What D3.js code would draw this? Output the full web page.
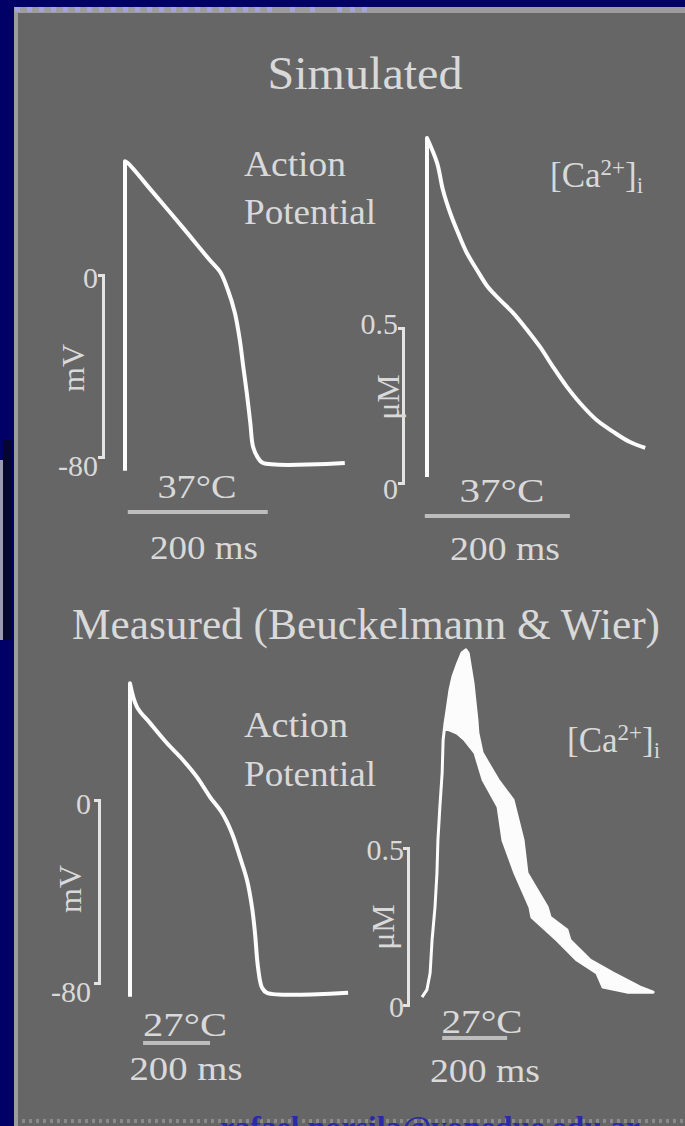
<!DOCTYPE html>
<html>
<head>
<meta charset="utf-8">
<script src="https://cdn.jsdelivr.net/npm/d3@7"></script>
<style>
  body { margin: 0; background: #000066; }
  svg { display: block; }
  text { font-family: "Liberation Serif", "DejaVu Serif", serif; }
</style>
</head>
<body>
<div id="main"></div>
<script>
// simulated action potential, 37 C (ms, mV)
const simApTime = [0, 0, 4, 40, 83, 121, 136, 147, 157, 164, 169, 174, 179, 183, 190, 197, 314];
const simApVolt = [-86, 50, 49.2, 36.3, 20.7, 6.6, 1.3, -6.6, -16.7, -28.6, -40.4, -51.9, -65, -75.6, -80.4, -82.6, -82.6];

// simulated [Ca2+]i, 37 C (ms, uM)
const simCaTime = [0, 0, 14, 22, 32, 43, 55, 69, 84, 101, 119, 138, 156, 174, 193, 211, 234, 257, 280, 301];
const simCaConc = [0.019, 1.113, 1.032, 0.945, 0.871, 0.806, 0.742, 0.687, 0.632, 0.590, 0.548, 0.494, 0.439, 0.374, 0.310, 0.258, 0.203, 0.165, 0.132, 0.113];

// measured action potential, 27 C
const measApTime = [0, 0, 21, 60, 110, 158, 200, 239, 275, 304, 328, 349, 364, 373, 382, 394, 409, 651];
const measApVolt = [-86, 51, 40.6, 33.6, 24.9, 17.5, 10, 1.3, -5.7, -14.4, -24.9, -34.9, -46.7, -58, -73, -82, -84.3, -84.3];

// measured [Ca2+]i, 27 C: rise + upper edge, then lower edge of the noisy trace
const measCaTime = [0, 15, 25, 31, 40, 46, 49, 55, 62, 65, 71, 77, 86, 95, 108, 123, 135, 142, 157, 169, 172, 185, 234, 280, 311, 323, 354, 385, 394, 446, 455, 517, 588, 671, 711];
const measCaConc = [0.025, 0.048, 0.102, 0.207, 0.312, 0.420, 0.525, 0.631, 0.739, 0.844, 0.898, 0.939, 1.003, 1.045, 1.083, 1.121, 1.131, 1.121, 1.025, 0.908, 0.866, 0.803, 0.717, 0.653, 0.525, 0.420, 0.366, 0.312, 0.280, 0.239, 0.207, 0.143, 0.102, 0.057, 0.041];
const measCaLowTime = [71, 108, 132, 163, 188, 234, 249, 286, 332, 338, 415, 477, 538, 557, 631, 711];
const measCaLowConc = [0.882, 0.866, 0.844, 0.803, 0.717, 0.631, 0.525, 0.420, 0.312, 0.280, 0.207, 0.143, 0.102, 0.057, 0.041, 0.041];

const apTicks = [-80, 0];
const apTickLabels = ["-80", "0"];
const caTicks = [0, 0.5];
const caTickLabels = ["0", "0.5"];

const W = 685, H = 1126;
const textColor = '#d9d9d9';
const traceColor = '#fcfcfc';

const svg = d3.select('#main').append('svg').attr('width', W).attr('height', H);

// frame
svg.append('rect').attr('width', W).attr('height', H).attr('fill', '#000066');
svg.append('rect').attr('x', 14).attr('y', 7).attr('width', W - 14).attr('height', H - 7).attr('fill', '#9c9c9c');
svg.append('rect').attr('x', 18).attr('y', 13).attr('width', W - 18).attr('height', H - 13).attr('fill', '#666666');
svg.selectAll('.dot').data(d3.range(15, 270, 12).concat([290, 310, 337, 350, 362]))
  .enter().append('rect').attr('class', 'dot')
  .attr('x', d => d).attr('y', 7).attr('width', 5).attr('height', 5).attr('fill', '#a4a4d8');
svg.selectAll('.bdot').data(d3.range(22, W, 7))
  .enter().append('rect').attr('class', 'bdot')
  .attr('x', d => d).attr('y', 1119).attr('width', 3).attr('height', 4).attr('fill', '#8a8a8a');
svg.append('rect').attr('x', 0).attr('y', 460).attr('width', 3).attr('height', 180).attr('fill', '#9a9ab0');
svg.append('rect').attr('x', 3).attr('y', 440).attr('width', 8).attr('height', 200).attr('fill', '#06062c');

// scales
const simApX = d3.scaleLinear().domain([0, 200]).range([125, 265]);
const simApY = d3.scaleLinear().domain([-80, 0]).range([457, 275]);
const simCaX = d3.scaleLinear().domain([0, 200]).range([427, 572]);
const simCaY = d3.scaleLinear().domain([0, 0.5]).range([483, 328]);
const measApX = d3.scaleLinear().domain([0, 200]).range([130, 197]);
const measApY = d3.scaleLinear().domain([-80, 0]).range([983, 800]);
const measCaX = d3.scaleLinear().domain([0, 200]).range([422, 487]);
const measCaY = d3.scaleLinear().domain([0, 0.5]).range([1005, 848]);

function drawTrace(times, values, x, y) {
  // upstroke drawn straight, the rest smoothed through the points
  const pts = times.map((t, i) => [x(t), y(values[i])]);
  const smooth = d3.line().curve(d3.curveCatmullRom.alpha(0.5));
  const d = 'M' + pts[0].join(',') + smooth(pts.slice(1)).replace(/^M/, 'L');
  svg.append('path')
    .attr('d', d)
    .attr('fill', 'none')
    .attr('stroke', traceColor)
    .attr('stroke-width', 4)
    .attr('stroke-linejoin', 'round');
}

drawTrace(simApTime, simApVolt, simApX, simApY);
drawTrace(simCaTime, simCaConc, simCaX, simCaY);
drawTrace(measApTime, measApVolt, measApX, measApY);

// measured calcium: band between upper and lower edges
const upper = measCaTime.map((t, i) => [t, measCaConc[i]]);
const lower = measCaLowTime.map((t, i) => [t, measCaLowConc[i]]).reverse();
const rise = upper.filter(d => d[0] <= measCaLowTime[0]).reverse();
const band = upper.concat(lower, rise);
svg.append('path')
  .attr('d', d3.line().x(d => measCaX(d[0])).y(d => measCaY(d[1]))(band))
  .attr('fill', traceColor)
  .attr('stroke', traceColor)
  .attr('stroke-width', 3)
  .attr('stroke-linejoin', 'round');

function drawAxis(xPos, y, ticks, labels, pad, dys) {
  const g = svg.append('g')
    .attr('transform', `translate(${xPos},0)`)
    .call(d3.axisLeft(y).tickValues(ticks).tickFormat((d, i) => labels[i])
      .tickSizeInner(0).tickSizeOuter(5).tickPadding(pad));
  g.attr('font-family', null).attr('font-size', null);
  g.select('.domain').attr('stroke', '#e4e4e4').attr('stroke-width', 3);
  g.selectAll('.tick text')
    .attr('fill', textColor)
    .attr('font-size', 30)
    .attr('dy', (d, i) => 10 + dys[i]);
}

drawAxis(103, simApY, apTicks, apTickLabels, 5, [8, 2]);
drawAxis(403, simCaY, caTicks, caTickLabels, 5, [5, -5]);
drawAxis(99, measApY, apTicks, apTickLabels, 8, [8, 3]);
drawAxis(408, measCaY, caTicks, caTickLabels, 4, [1, 1]);

function unitLabel(x, y, txt) {
  svg.append('text')
    .attr('transform', `translate(${x},${y}) rotate(-90)`)
    .attr('text-anchor', 'middle')
    .attr('dominant-baseline', 'central')
    .attr('font-size', 32)
    .attr('fill', textColor)
    .text(txt);
}
unitLabel(73, 368, 'mV');
unitLabel(388, 397, 'μM');
unitLabel(70, 889, 'mV');
unitLabel(383, 927, 'μM');

function label(x, y, txt, size, len, anchor) {
  const t = svg.append('text')
    .attr('x', x).attr('y', y)
    .attr('text-anchor', anchor || 'middle')
    .attr('font-size', size)
    .attr('fill', textColor)
    .text(txt);
  if (len) t.attr('textLength', len).attr('lengthAdjust', 'spacingAndGlyphs');
}

label(365, 89, 'Simulated', 46, 195);
label(366, 639, 'Measured (Beuckelmann & Wier)', 44, 588);

label(244, 176, 'Action', 36, 102, 'start');
label(244, 224, 'Potential', 36, 132, 'start');
label(244, 737, 'Action', 36, 104, 'start');
label(244, 786, 'Potential', 36, 132, 'start');

function caLabel(x, y) {
  const t = svg.append('text').attr('x', x).attr('y', y)
    .attr('font-size', 35).attr('fill', textColor);
  t.append('tspan').text('[Ca');
  t.append('tspan').attr('dy', -12).attr('font-size', 23).text('2+');
  t.append('tspan').attr('dy', 12).text(']');
  t.append('tspan').attr('dy', 6).attr('font-size', 23).text('i');
}
caLabel(550, 187);
caLabel(567, 752);

// scale bars
function scaleBar(x, t0, yPos) {
  svg.append('line')
    .attr('x1', x(t0)).attr('x2', x(t0 + 200))
    .attr('y1', yPos).attr('y2', yPos)
    .attr('stroke', '#bdbdbd').attr('stroke-width', 4);
}
scaleBar(simApX, 4, 512);
scaleBar(simCaX, -3, 516);
scaleBar(measApX, 39, 1043);
scaleBar(measCaX, 62, 1038);

label(197, 498, '37°C', 34, 79);
label(204, 559, '200 ms', 34, 108);
label(502, 502, '37°C', 34, 85);
label(505, 560, '200 ms', 34, 110);
label(185, 1036, '27°C', 34, 84);
label(186, 1080, '200 ms', 34, 113);
label(482, 1033, '27°C', 34, 81);
label(485, 1082, '200 ms', 34, 110);

// contact line, cut by the bottom edge as in the original slide
svg.append('text')
  .attr('x', 430).attr('y', 1138)
  .attr('text-anchor', 'middle')
  .attr('font-size', 32)
  .attr('font-weight', 'bold')
  .attr('fill', '#2a2aa8')
  .attr('textLength', 420).attr('lengthAdjust', 'spacingAndGlyphs')
  .text('rafael.norsila@yonedue.edu.ar');
</script>
</body>
</html>
